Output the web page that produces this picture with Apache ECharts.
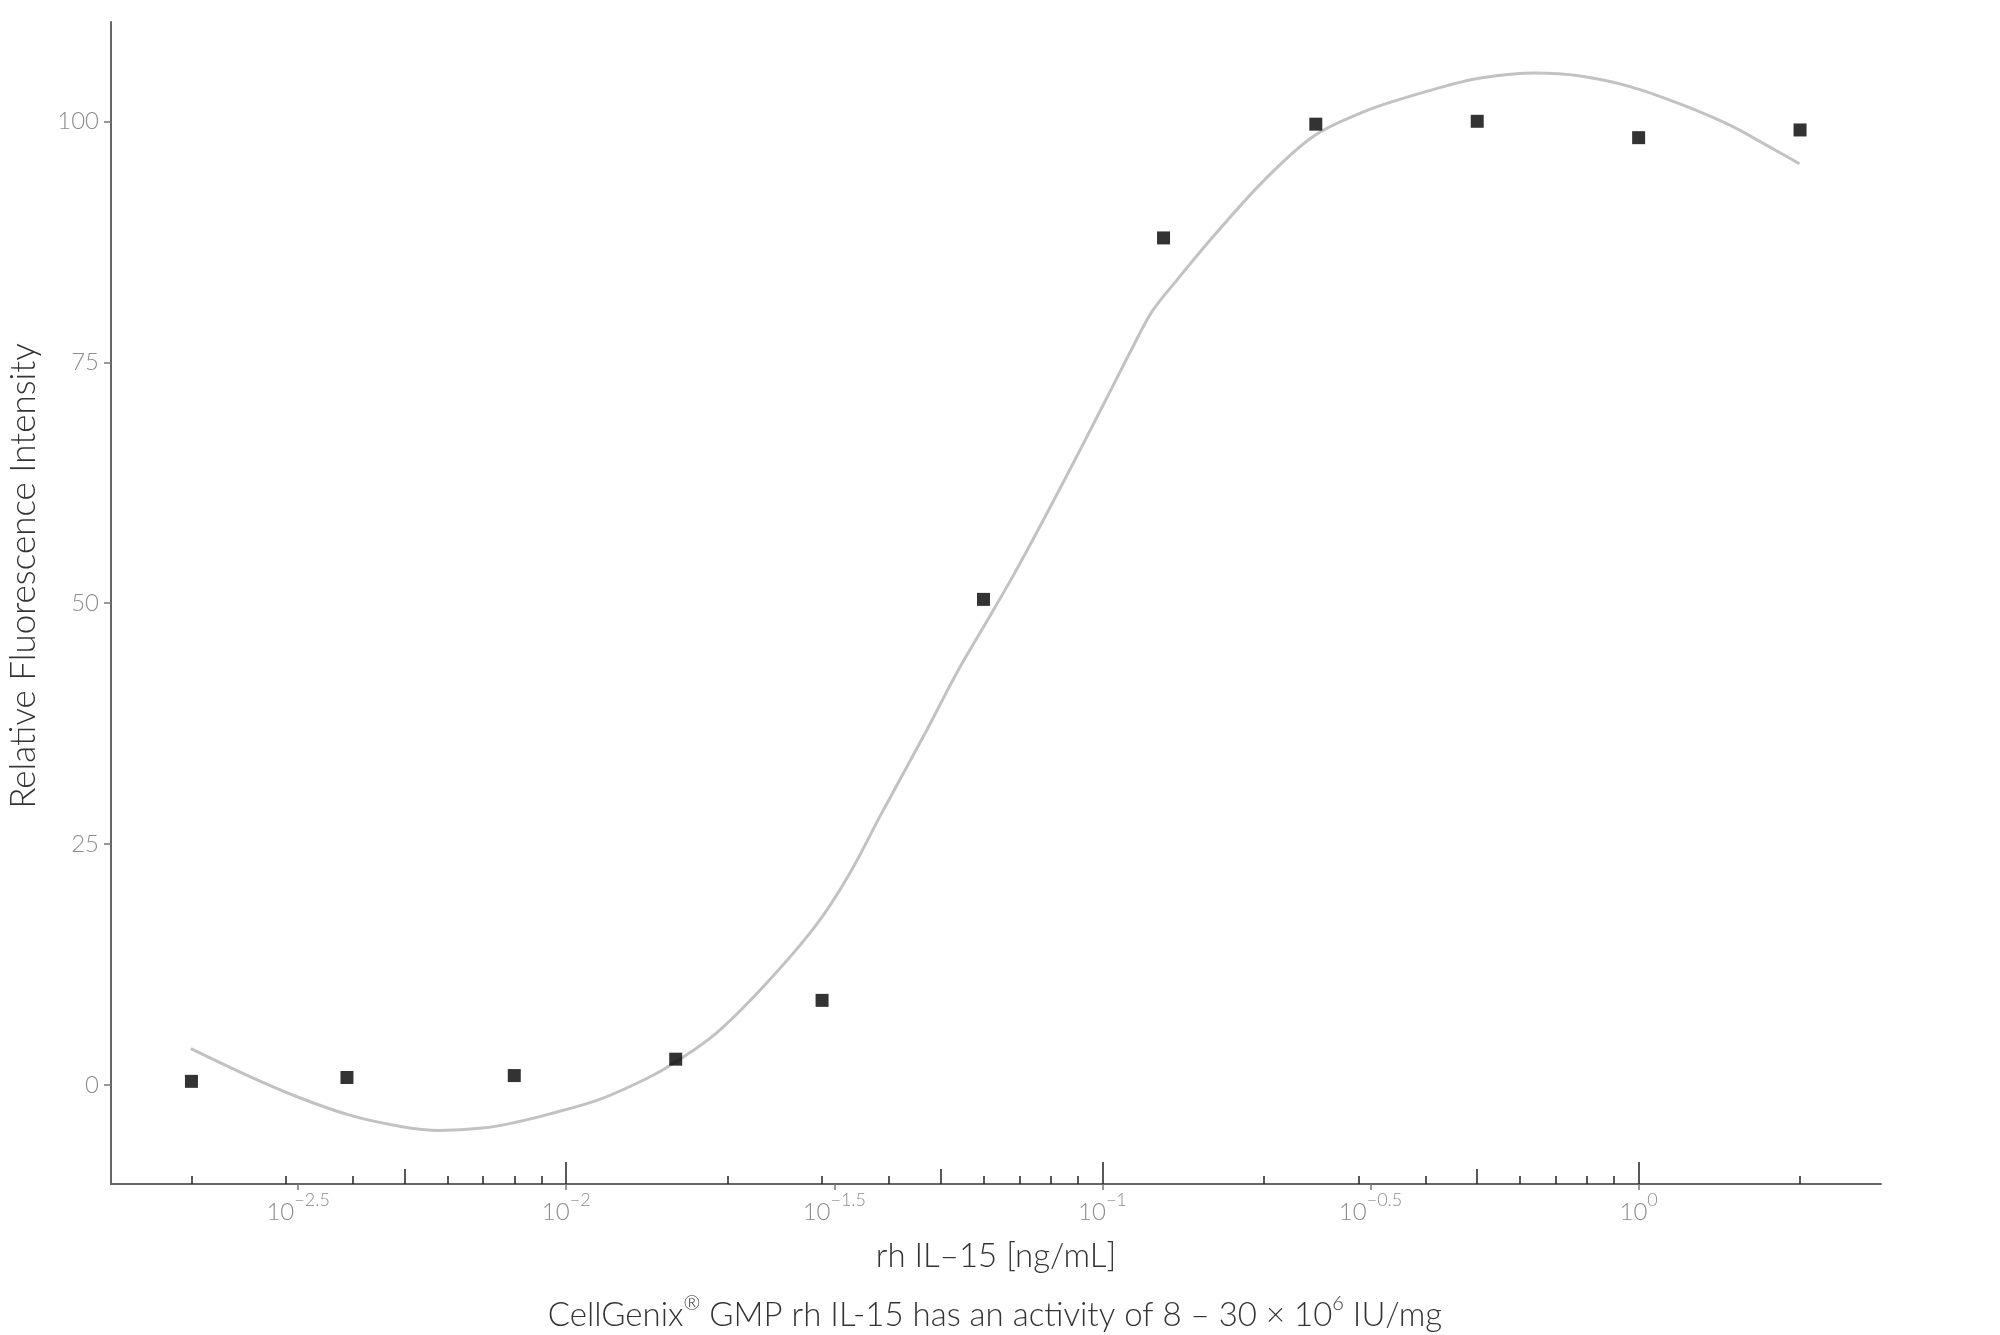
<!DOCTYPE html>
<html>
<head>
<meta charset="utf-8">
<script src="https://cdn.jsdelivr.net/npm/echarts@6/dist/echarts.min.js"></script>
<style>
  html, body { margin: 0; padding: 0; background: #ffffff; }
  #chart { width: 2000px; height: 1335px; }
</style>
</head>
<body>
<div id="chart"></div>
<script>
// ---- data ----
const conc = [0.002, 0.0039, 0.008, 0.016, 0.03, 0.06, 0.13, 0.25, 0.5, 1, 2];      // rh IL-15 [ng/mL]
const rfi  = [0.4, 0.8, 1.0, 2.7, 8.8, 50.4, 87.9, 99.7, 100.0, 98.3, 99.1];          // relative fluorescence intensity

// fitted curve (x as log10 of concentration)
const curveLogX = [-2.70, -2.590, -2.497, -2.404, -2.311, -2.237, -2.156, -2.094, -2.032, -1.939, -1.846, -1.796,
                   -1.720, -1.627, -1.534, -1.473, -1.411, -1.331, -1.269, -1.207, -1.163, -1.101, -1.039, -0.990,
                   -0.946, -0.907, -0.860, -0.791, -0.698, -0.605, -0.512, -0.450, -0.357, -0.295, -0.195, -0.109,
                   -0.016, 0.077, 0.170, 0.239, 0.300];
const curveY    = [3.8, 0.9, -1.3, -3.1, -4.25, -4.7, -4.45, -3.85, -3.0, -1.5, 0.8, 2.4,
                   5.4, 10.55, 16.6, 21.8, 28.3, 36.48, 43.05, 48.93, 53.2, 59.6, 66.2, 71.5,
                   76.3, 80.3, 83.6, 88.2, 93.9, 98.5, 101.0, 102.2, 103.7, 104.5, 105.0, 104.7,
                   103.6, 101.8, 99.6, 97.5, 95.6];

// axis ticks / labels
const yTicks = [0, 25, 50, 75, 100];
const xLabelExp = [-2.5, -2, -1.5, -1, -0.5, 0];           // labelled exponents (10^e)
const xLabelText = ['\u22122.5', '\u22122', '\u22121.5', '\u22121', '\u22120.5', '0'];
const logDecades = [-3, -2, -1, 0];                          // for log tick marks
const minorMult = [2, 3, 4, 6, 7, 8, 9];
const midMult = [5];

const X_MIN = -2.849, X_MAX = 0.452;
const Y_MIN = -10.25, Y_MAX = 110.3;

function ticksFor(mults) {
  const out = [];
  logDecades.forEach(function (d) {
    mults.forEach(function (m) {
      const v = d + Math.log10(m);
      if (v >= X_MIN && v <= X_MAX) out.push(v);
    });
  });
  return out;
}
const minorTicks = ticksFor(minorMult);
const midTicks = ticksFor(midMult);
const majorTicks = ticksFor([1]);

const FONT = 'Lato';

const scatterData = conc.map(function (c, i) { return [Math.log10(c), rfi[i]]; });
const curveData = curveLogX.map(function (x, i) { return [x, curveY[i]]; });

function baseX(extra) {
  const o = {
    type: 'value', min: X_MIN, max: X_MAX, position: 'bottom', gridIndex: 0,
    splitLine: { show: false },
    axisLine: { show: false, onZero: false },
    axisLabel: { show: false },
    axisTick: { show: false }
  };
  return Object.assign(o, extra);
}

const chart = echarts.init(document.getElementById('chart'), null, { renderer: 'canvas' });

const option = {
  backgroundColor: '#ffffff',
  animation: false,
  textStyle: { fontFamily: FONT },
  grid: { left: 111, right: 119, top: 22, bottom: 151, containLabel: false },
  xAxis: [
    baseX({
      axisLine: { show: true, onZero: false, lineStyle: { color: '#666666', width: 2 } },
      axisTick: { show: true, inside: false, length: 6, customValues: xLabelExp,
                  lineStyle: { color: '#777777', width: 1.5 } },
      axisLabel: {
        show: true, customValues: xLabelExp, margin: 7,
        formatter: function (v) {
          let idx = 0, best = 1e9;
          xLabelExp.forEach(function (e, i) { const d = Math.abs(e - v); if (d < best) { best = d; idx = i; } });
          return '{b|10}{s|' + xLabelText[idx] + '}';
        },
        rich: {
          b: { fontFamily: FONT, fontSize: 24, fontWeight: 300, color: '#8c8c8c', lineHeight: 33, verticalAlign: 'bottom' },
          s: { fontFamily: FONT, fontSize: 18, fontWeight: 300, color: '#8c8c8c', lineHeight: 18, verticalAlign: 'top' }
        }
      },
      name: 'rh IL\u201315 [ng/mL]',
      nameLocation: 'middle',
      nameGap: 56,
      nameTextStyle: { fontFamily: FONT, fontSize: 33, fontWeight: 300, color: '#333333' }
    }),
    baseX({
      axisTick: { show: true, inside: true, length: 8, customValues: minorTicks,
                  lineStyle: { color: '#222222', width: 1.5 } }
    }),
    baseX({
      axisTick: { show: true, inside: true, length: 15, customValues: midTicks,
                  lineStyle: { color: '#222222', width: 1.5 } }
    }),
    baseX({
      axisTick: { show: true, inside: true, length: 22, customValues: majorTicks,
                  lineStyle: { color: '#222222', width: 1.5 } }
    })
  ],
  yAxis: {
    type: 'value', min: Y_MIN, max: Y_MAX,
    splitLine: { show: false },
    axisLine: { show: true, onZero: false, lineStyle: { color: '#666666', width: 2 } },
    axisTick: { show: true, length: 7, customValues: yTicks, lineStyle: { color: '#777777', width: 1.5 } },
    axisLabel: { customValues: yTicks, margin: 12, fontFamily: FONT, fontSize: 24, fontWeight: 300, color: '#8c8c8c' }
  },
  graphic: [
    {
      type: 'text',
      x: 24, y: 576,
      rotation: Math.PI / 2,
      style: {
        text: 'Relative Fluorescence Intensity',
        font: '300 35px ' + FONT,
        fill: '#333333',
        align: 'center',
        verticalAlign: 'middle'
      }
    },
    {
      type: 'text',
      x: 995, y: 1313,
      style: {
        text: '{a|CellGenix}{s|\u00AE}{a| GMP rh IL-15 has an activity of 8 \u2013 30 \u00D7 10}{s|6}{a| IU/mg}',
        align: 'center',
        verticalAlign: 'middle',
        rich: {
          a: { fontFamily: FONT, fontSize: 33, fontWeight: 300, fill: '#333333', lineHeight: 38, verticalAlign: 'bottom' },
          s: { fontFamily: FONT, fontSize: 20, fontWeight: 300, fill: '#333333', lineHeight: 22, verticalAlign: 'top' }
        }
      }
    }
  ],
  series: [
    {
      type: 'line',
      xAxisIndex: 0,
      data: curveData,
      smooth: 0.35,
      showSymbol: false,
      symbol: 'none',
      lineStyle: { color: '#c2c2c2', width: 3 },
      z: 2
    },
    {
      type: 'scatter',
      xAxisIndex: 0,
      data: scatterData,
      symbol: 'rect',
      symbolSize: 13,
      itemStyle: { color: '#000000' },
      z: 3
    }
  ]
};
chart.setOption(option);
</script>
</body>
</html>
